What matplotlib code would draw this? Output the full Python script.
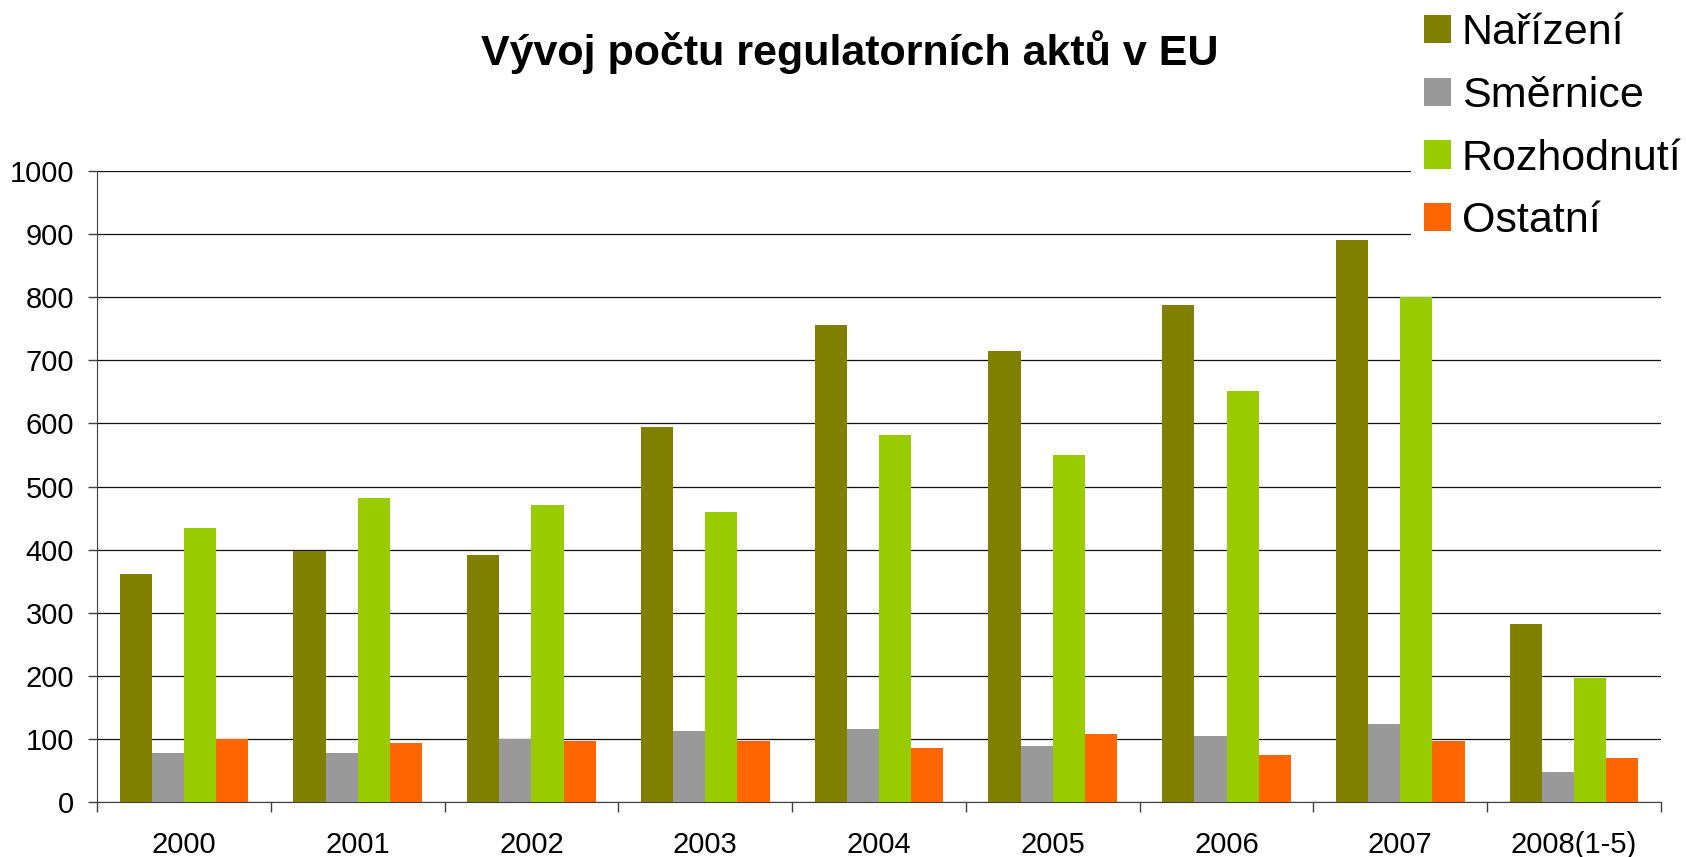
import numpy as np
import matplotlib
matplotlib.use("Agg")
import matplotlib.pyplot as plt
from matplotlib.ticker import FixedLocator

plt.rcParams['font.family'] = ['Liberation Sans', 'DejaVu Sans']

# data
years = ['2000', '2001', '2002', '2003', '2004', '2005', '2006', '2007', '2008(1-5)']
narizeni = [361, 398, 392, 594, 756, 715, 788, 890, 282]
smernice = [77, 78, 100, 113, 116, 88, 105, 124, 48]
rozhodnuti = [435, 481, 470, 459, 582, 550, 652, 800, 197]
ostatni = [100, 94, 97, 97, 86, 107, 75, 97, 69]

series = [('Nařízení', narizeni, '#808000'),
          ('Směrnice', smernice, '#999999'),
          ('Rozhodnutí', rozhodnuti, '#99CC00'),
          ('Ostatní', ostatni, '#FF6600')]

fig = plt.figure(figsize=(16.86, 8.57), dpi=100)
ax = fig.add_axes([97/1686, 1 - 802/857, (1661 - 97)/1686, (802 - 171)/857])

x = np.arange(len(years))
w = 0.185
for i, (name, vals, col) in enumerate(series):
    ax.bar(x + (i - 1.5)*w, vals, width=w, color=col, label=name, zorder=3)

ax.set_xlim(-0.5, len(years) - 0.5)
ax.set_ylim(0, 1000)
ax.set_yticks(np.arange(0, 1001, 100))
ax.yaxis.grid(True, color='#111111', linewidth=0.9, zorder=0)
ax.set_axisbelow(True)

ax.set_xticks(x)
ax.set_xticklabels(years)
ax.xaxis.set_minor_locator(FixedLocator(np.arange(-0.5, len(years), 1.0)))
ax.tick_params(axis='x', which='major', length=0, pad=21, labelsize=21)
ax.tick_params(axis='x', which='minor', length=7, width=1, color='#404040')
ax.tick_params(axis='y', length=6.5, width=1, color='#404040', pad=10, labelsize=21)

for s in ['top', 'right']:
    ax.spines[s].set_visible(False)
ax.spines['left'].set_color('#404040')
ax.spines['bottom'].set_color('#404040')

fig.text(850/1686, 1 - 52/857, 'Vývoj počtu regulatorních aktů v EU',
         ha='center', va='center', fontsize=31, fontweight='bold')

leg = fig.legend(loc='upper left', bbox_to_anchor=(1411/1686, 1.0),
                 frameon=True, fontsize=31, handlelength=0.63, handleheight=0.63,
                 handletextpad=0.25, labelspacing=0.53, borderpad=0.3,
                 borderaxespad=0)
leg.get_frame().set_facecolor('white')
leg.get_frame().set_edgecolor('none')
leg.get_frame().set_alpha(1)

fig.savefig('out.png', dpi=100)
